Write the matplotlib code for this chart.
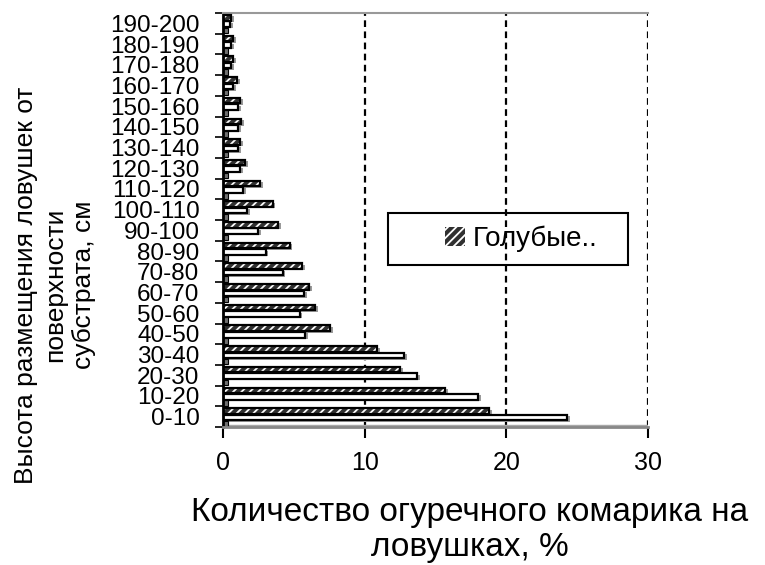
import matplotlib.pyplot as plt
from matplotlib.patches import Rectangle
import numpy as np

plt.rcParams['font.family'] = ['Liberation Sans', 'DejaVu Sans']
plt.rcParams['hatch.linewidth'] = 1.3

# height ranges of the traps, cm
heights = ["0-10", "10-20", "20-30", "30-40", "40-50", "50-60", "60-70",
           "70-80", "80-90", "90-100", "100-110", "110-120", "120-130",
           "130-140", "140-150", "150-160", "160-170", "170-180",
           "180-190", "190-200"]
# share of gnats caught, %
blue = [18.8, 15.7, 12.5, 10.9, 7.55, 6.5, 6.1, 5.6, 4.7, 3.9,
        3.5, 2.6, 1.55, 1.2, 1.3, 1.2, 1.0, 0.7, 0.7, 0.6]
white = [24.3, 18.0, 13.7, 12.8, 5.8, 5.4, 5.7, 4.2, 3.0, 2.5,
         1.7, 1.4, 1.2, 1.05, 1.05, 1.05, 0.7, 0.55, 0.55, 0.5]
grey = [0.35, 0.35, 0.35, 0.35, 0.35, 0.35, 0.35, 0.35, 0.35, 0.35,
        0.35, 0.35, 0.35, 0.35, 0.35, 0.35, 0.35, 0.35, 0.35, 0.35]

fig = plt.figure(figsize=(7.65, 5.65), dpi=100)
ax = fig.add_axes([0.2915, 0.2442, 0.5556, 0.7327])

y = np.arange(len(heights))
h = 0.27

# 3d-ish shadows
ax.barh(y + 0.27 - 0.07, np.array(blue) + 0.2, height=h, color="#9a9a9a", zorder=1)
ax.barh(y - 0.04 - 0.07, np.array(white) + 0.2, height=h, color="#9a9a9a", zorder=1)

ax.barh(y - 0.34, grey, height=h, color="#707070", edgecolor="black", lw=0.8, zorder=2)
ax.barh(y - 0.04, white, height=h, color="white", edgecolor="black", lw=1.6, zorder=2)
ax.barh(y + 0.27, blue, height=h, color="#303030", edgecolor="white", hatch="////",
        lw=0, zorder=2, label="Голубые..")
ax.barh(y + 0.27, blue, height=h, fill=False, edgecolor="black", lw=1.6, zorder=3)

# floor of the chart
ax.axhspan(-0.5, -0.4, color="#a8a8a8", zorder=0.8)

for v in [10, 20, 30]:
    ax.axvline(v, color="black", ls=(0, (3, 2)), lw=1.6, zorder=0.5)

ax.set_xlim(0, 30)
ax.set_ylim(-0.5, len(heights) - 0.5)
ax.set_xticks([0, 10, 20, 30])
ax.tick_params(axis="x", labelsize=18, length=8, width=1.5, pad=9)

ax.set_yticks(np.arange(-0.5, len(heights), 1))
ax.set_yticklabels([])
ax.tick_params(axis="y", which="major", length=6, width=1.2)
ax.set_yticks(y, minor=True)
ax.set_yticklabels(heights, minor=True, fontsize=17.5)
ax.tick_params(axis="y", which="minor", length=0, pad=17)

ax.spines["right"].set_visible(False)
ax.spines["top"].set_color("#999999")
ax.spines["top"].set_linewidth(1.5)
ax.spines["left"].set_linewidth(2)
ax.spines["bottom"].set_color("#888888")
ax.spines["bottom"].set_linewidth(2)

# legend box
ax.add_patch(Rectangle((0.388, 0.391), 0.565, 0.126, transform=ax.transAxes,
                       fill=False, edgecolor="black", lw=1.5, zorder=5))
ax.legend(loc="center left", bbox_to_anchor=(0.49, 0.454), frameon=False,
          fontsize=20, handlelength=0.7, handleheight=0.7, handletextpad=0.3,
          borderpad=0)

fig.text(470 / 765, 1 - 530 / 565, "Количество огуречного комарика на\nловушках, %",
         ha="center", va="center", fontsize=24, linespacing=1.2)
fig.text(55 / 765, 1 - 285 / 565, "Высота размещения ловушек от\nповерхности\nсубстрата, см",
         ha="center", va="center", rotation=90, fontsize=19, linespacing=1.25)

fig.savefig("out.png", dpi=100)
